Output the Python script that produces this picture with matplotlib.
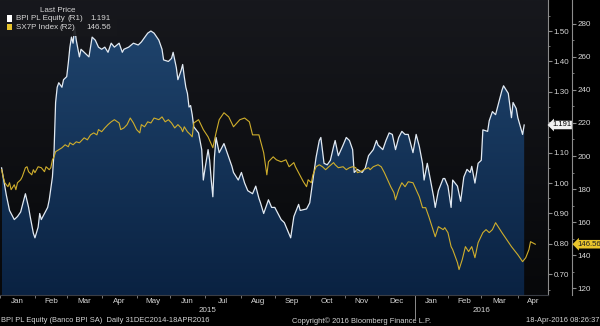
import matplotlib.pyplot as plt
import matplotlib.transforms as mtransforms
from matplotlib.colors import LinearSegmentedColormap
from matplotlib.patches import Rectangle
import numpy as np
import pandas as pd

plt.rcParams['font.family'] = ['Liberation Sans', 'DejaVu Sans']
FS = 5.8        # axis and legend labels
FS_FOOT = 5.4   # footer line

# trading day number (0 = 31 Dec 2014) and closing level of each series
bpi_day = [2, 5, 7, 9, 10, 12, 14, 16, 17, 19,
           20, 22, 23, 25, 26, 27, 29, 31, 32, 34,
           35, 36, 37, 38, 40, 41, 43, 44, 45, 46,
           47, 48, 49, 51, 52, 54, 57, 59, 61, 63,
           65, 67, 69, 71, 73, 76, 78, 79, 82, 85,
           88, 90, 94, 96, 98, 101, 103, 104, 107, 109,
           110, 112, 113, 115, 116, 117, 118, 119, 120, 121,
           122, 123, 126, 128, 129, 130, 132, 133, 134, 135,
           136, 137, 139, 142, 144, 147, 148, 151, 153, 155,
           157, 160, 162, 164, 165, 167, 170, 172, 174, 176,
           178, 180, 182, 184, 186, 189, 190, 194, 196, 198,
           200, 202, 203, 205, 207, 209, 211, 212, 214, 217,
           219, 221, 223, 224, 226, 229, 231, 233, 236, 238,
           239, 242, 244, 246, 248, 250, 252, 254, 256, 258,
           261, 263, 265, 267, 268, 270, 272, 274, 275, 277,
           280, 281, 283, 285, 286, 289, 291, 293, 295, 297,
           298, 300, 302, 304, 305, 308, 309, 311, 313, 315,
           317, 318, 321, 323, 324, 326, 327, 330, 331]
bpi_px = [1.05, 0.96, 0.91, 0.89, 0.88, 0.89, 0.905, 0.945, 0.965, 0.92,
          0.89, 0.835, 0.82, 0.855, 0.90, 0.88, 0.90, 0.92, 0.945, 1.02,
          1.10, 1.265, 1.315, 1.33, 1.315, 1.34, 1.35, 1.395, 1.447, 1.48,
          1.46, 1.513, 1.47, 1.415, 1.44, 1.43, 1.415, 1.48, 1.47, 1.447,
          1.44, 1.447, 1.43, 1.46, 1.447, 1.46, 1.43, 1.44, 1.447, 1.46,
          1.454, 1.464, 1.493, 1.50, 1.493, 1.47, 1.44, 1.405, 1.40, 1.41,
          1.43, 1.38, 1.34, 1.37, 1.39, 1.35, 1.315, 1.295, 1.25, 1.255,
          1.225, 1.185, 1.165, 1.11, 1.01, 1.045, 1.11, 1.075, 1.01, 0.955,
          1.085, 1.15, 1.10, 1.13, 1.10, 1.055, 1.035, 1.01, 1.035, 1.00,
          0.975, 0.965, 0.99, 0.95, 0.935, 0.90, 0.945, 0.92, 0.92, 0.90,
          0.88, 0.87, 0.845, 0.82, 0.89, 0.93, 0.91, 0.915, 0.935, 1.01,
          1.085, 1.14, 1.15, 1.065, 1.06, 1.075, 1.12, 1.14, 1.09, 1.125,
          1.15, 1.14, 1.11, 1.035, 1.045, 1.035, 1.05, 1.09, 1.11, 1.14,
          1.125, 1.11, 1.14, 1.165, 1.16, 1.11, 1.15, 1.17, 1.16, 1.16,
          1.10, 1.16, 1.12, 1.065, 1.01, 1.065, 1.01, 0.955, 0.92, 0.975,
          1.015, 1.015, 0.99, 0.92, 1.01, 0.99, 0.94, 1.02, 1.045, 1.035,
          1.055, 1.00, 1.065, 1.075, 1.175, 1.17, 1.205, 1.235, 1.225, 1.265,
          1.305, 1.32, 1.295, 1.215, 1.265, 1.245, 1.215, 1.16, 1.191]

sx7p_day = [2, 3, 4, 6, 7, 8, 10, 11, 12, 14,
            15, 17, 18, 19, 21, 22, 23, 25, 27, 29,
            30, 32, 33, 34, 35, 36, 38, 40, 42, 44,
            45, 47, 49, 51, 54, 56, 58, 60, 62, 63,
            65, 67, 69, 71, 73, 76, 77, 79, 81, 83,
            85, 87, 89, 90, 92, 94, 96, 98, 101, 103,
            105, 107, 109, 111, 113, 115, 116, 117, 119, 121,
            122, 123, 126, 129, 132, 135, 137, 139, 142, 145,
            148, 152, 155, 158, 160, 164, 167, 169, 170, 173,
            175, 178, 181, 183, 186, 187, 189, 192, 194, 195,
            197, 198, 200, 202, 204, 206, 208, 211, 212, 214,
            217, 219, 221, 223, 225, 226, 228, 230, 233, 234,
            236, 239, 241, 243, 245, 247, 249, 250, 252, 254,
            256, 258, 261, 263, 265, 267, 269, 271, 273, 275,
            277, 280, 281, 283, 285, 286, 289, 290, 292, 294,
            296, 298, 300, 302, 305, 307, 309, 311, 313, 315,
            317, 320, 323, 327, 330, 332, 334, 335, 338]
sx7p_px = [191.7, 187.4, 183.8, 181.4, 183.8, 179.6, 182.6, 179.6, 183.8, 185.6,
           187.4, 192.9, 193.5, 190.5, 188.6, 191.7, 189.9, 193.5, 192.9, 190.5,
           193.5, 191.7, 192.9, 197.7, 199.5, 202.6, 203.8, 205.0, 206.8, 205.6,
           208.0, 206.8, 208.6, 208.0, 211.0, 209.8, 212.8, 214.0, 212.8, 216.0,
           214.7, 217.0, 219.0, 220.7, 222.0, 220.0, 216.0, 217.0, 219.0, 223.0,
           220.0, 216.0, 214.0, 219.0, 217.7, 220.7, 220.0, 223.0, 222.0, 223.7,
           220.7, 222.0, 220.0, 217.0, 219.0, 217.0, 214.7, 217.7, 214.7, 212.8,
           211.6, 220.0, 222.0, 216.0, 211.6, 205.0, 214.0, 222.0, 226.2, 223.7,
           217.7, 222.0, 223.0, 220.7, 212.8, 212.8, 202.0, 188.6, 196.5, 199.5,
           197.7, 196.5, 197.7, 193.5, 196.0, 193.5, 189.9, 184.4, 181.4, 185.6,
           183.8, 188.6, 193.5, 194.7, 193.5, 191.7, 193.5, 196.0, 194.7, 192.9,
           193.5, 191.7, 192.9, 193.5, 192.9, 189.9, 190.5, 191.7, 192.9, 191.7,
           193.5, 194.7, 193.5, 189.9, 185.6, 181.4, 177.8, 173.5, 179.6, 183.8,
           181.4, 184.4, 183.8, 179.6, 175.3, 168.7, 168.7, 163.2, 157.2, 151.1,
           157.2, 155.4, 156.6, 153.6, 145.1, 143.3, 135.4, 131.2, 137.2, 145.1,
           142.1, 145.1, 138.4, 147.5, 153.6, 155.4, 153.6, 155.4, 159.6, 156.6,
           153.6, 149.3, 145.1, 140.2, 136.0, 138.4, 143.3, 148.1, 146.56]

r1_ticks = [0.70, 0.80, 0.90, 1.00, 1.10, 1.20, 1.30, 1.40, 1.50]
r2_ticks = [120, 140, 160, 180, 200, 220, 240, 260, 280]

days = pd.bdate_range('2014-12-31', '2016-04-18')

TXT = '#d6d6d6'
AXIS = '#8c8c8c'
WHITE_LINE = '#e2eaf3'
YELLOW_LINE = '#cfae2c'
TAG_YELLOW = '#e8c42c'

x_lo, x_hi = 2.3, 346.0
r1_lo, r1_hi = 0.632, 1.602
r2_lo, r2_hi = 115.8, 294.5

fig = plt.figure(figsize=(6, 3.26), dpi=100, facecolor='black')
ax = fig.add_axes([0, 31 / 326, 548 / 600, 295 / 326])
ax.set_facecolor('none')
px = 72 / fig.dpi  # one pixel in points

# dark backdrop, slightly lighter at the top
grad = np.linspace(0, 1, 256).reshape(-1, 1)
bg_cmap = LinearSegmentedColormap.from_list('bg', ['#17181d', '#07080a'])
ax.imshow(grad, cmap=bg_cmap, extent=[0, 1, 0, 1], transform=ax.transAxes,
          aspect='auto', zorder=0)

# blue area under BPI, shaded top to bottom
area = ax.fill_between(bpi_day, bpi_px, r1_lo - 0.1, facecolor='none', lw=0)
fill_cmap = LinearSegmentedColormap.from_list('fill', ['#1f446d', '#0a2242'])
im = ax.imshow(grad, cmap=fill_cmap, extent=[x_lo, x_hi, r1_lo, 1.52],
               aspect='auto', zorder=1)
im.set_clip_path(area.get_paths()[0], transform=ax.transData)

ax.plot(bpi_day, bpi_px, color=WHITE_LINE, lw=0.9, zorder=3)

ax2 = ax.twinx()
ax2.plot(sx7p_day, sx7p_px, color=YELLOW_LINE, lw=0.8, zorder=3)

ax.set_xlim(x_lo, x_hi)
ax.set_ylim(r1_lo, r1_hi)
ax2.set_ylim(r2_lo, r2_hi)

# right-hand scales: R1 on the plot edge, R2 pushed outward;
# the 1.20 label sits under the last-price tag
ax.yaxis.tick_right()
ax.set_yticks(r1_ticks)
ax.set_yticklabels(['' if v == 1.20 else f'{v:.2f}' for v in r1_ticks])
ax.set_yticks(np.arange(0.65, 1.60, 0.10), minor=True)
ax2.set_yticks(r2_ticks)
ax2.set_yticks(np.arange(130, 290, 20), minor=True)
for a in (ax, ax2):
    for side in ('top', 'left'):
        a.spines[side].set_visible(False)
    a.spines['right'].set_color(AXIS)
    a.spines['right'].set_linewidth(0.8)
    a.tick_params(axis='y', which='major', direction='out', length=4 * px, width=0.8,
                  color=AXIS, labelcolor=TXT, labelsize=FS, pad=1)
    a.tick_params(axis='y', which='minor', direction='out', length=2 * px, width=0.6,
                  color=AXIS)
ax2.spines['right'].set_position(('outward', 24 * px))
ax2.spines['bottom'].set_visible(False)
ax.spines['bottom'].set_color('#3a3d44')
ax.spines['bottom'].set_linewidth(0.8)

# months along the bottom, labels centred between month starts
month_id = days.year * 12 + days.month
starts = np.flatnonzero(np.diff(month_id)) + 1
edges = np.append(starts, x_hi)
mids = (edges[:-1] + edges[1:]) / 2
ax.set_xticks(mids)
ax.set_xticklabels(days[starts].strftime('%b'))
ax.set_xticks(starts, minor=True)
ax.tick_params(axis='x', which='major', length=0, labelcolor=TXT, labelsize=FS, pad=2)
ax.tick_params(axis='x', which='minor', direction='out', length=3 * px, width=0.6,
               color=AXIS)

xdata_yaxes = mtransforms.blended_transform_factory(ax.transData, ax.transAxes)
jan16 = starts[days[starts].year == 2016][0]
jan15 = starts[0]
ax.plot([jan16, jan16], [0, -0.078], transform=xdata_yaxes, color=AXIS, lw=0.7,
        clip_on=False)
for yr, lo, hi in ((2015, jan15, jan16), (2016, jan16, x_hi)):
    ax.text((lo + hi) / 2, -0.054, str(yr), transform=xdata_yaxes, ha='center',
            va='center', color=TXT, fontsize=FS)

# last-price tags on each scale (both on ax2 so they sit above its spine)
ax2.text(1 + 4 / 548, bpi_px[-1], f'{bpi_px[-1]:.3f}',
         transform=mtransforms.blended_transform_factory(ax.transAxes, ax.transData),
         ha='left', va='center', fontsize=FS - 0.3, color='black', clip_on=False,
         zorder=10, bbox=dict(boxstyle='larrow,pad=0.1', fc='#f2f2f2', ec='none'))
ax2.text(1 + 29 / 548, sx7p_px[-1], f'{sx7p_px[-1]:.2f}',
         transform=mtransforms.blended_transform_factory(ax2.transAxes, ax2.transData),
         ha='left', va='center', fontsize=FS - 0.2, color='#222222', clip_on=False,
         zorder=10, bbox=dict(boxstyle='larrow,pad=0.1', fc=TAG_YELLOW, ec='none'))

# legend panel
fig.add_artist(Rectangle((0, 1 - 36 / 326), 117 / 600, 36 / 326, transform=fig.transFigure,
                         fc='#17181c', ec='none', alpha=0.92, zorder=20))
fig.text(58 / 600, 1 - 10 / 326, 'Last Price', ha='center', va='center', color=TXT,
         fontsize=FS, zorder=21)
rows = [('BPI PL Equity', '(R1)', f'{bpi_px[-1]:.3f}', '#ffffff', 68),
        ('SX7P Index', '(R2)', f'{sx7p_px[-1]:.2f}', TAG_YELLOW, 59)]
for i, (name, scale, last, col, scale_x) in enumerate(rows):
    yc = 1 - (18.5 + 9 * i) / 326
    fig.add_artist(Rectangle((7 / 600, yc - 3 / 326), 5 / 600, 6 / 326,
                             transform=fig.transFigure, fc=col, ec='none', zorder=21))
    fig.text(16 / 600, yc, name, ha='left', va='center', color=TXT, fontsize=FS,
             zorder=21)
    fig.text(scale_x / 600, yc, scale, ha='left', va='center', color=TXT,
             fontsize=FS, zorder=21)
    fig.text(111 / 600, yc, last, ha='right', va='center', color=TXT, fontsize=FS,
             zorder=21)

# footer
fig.text(1 / 600, 5 / 326, 'BPI PL Equity (Banco BPI SA)  Daily 31DEC2014-18APR2016',
         ha='left', va='center', color=TXT, fontsize=FS_FOOT)
fig.text(292 / 600, 5 / 326, 'Copyright\u00a9 2016 Bloomberg Finance L.P.',
         ha='left', va='center', color=TXT, fontsize=FS_FOOT)
fig.text(599 / 600, 5 / 326, '18-Apr-2016 08:26:37', ha='right', va='center',
         color=TXT, fontsize=FS_FOOT)

fig.savefig('out.png', dpi=100, facecolor='black')
